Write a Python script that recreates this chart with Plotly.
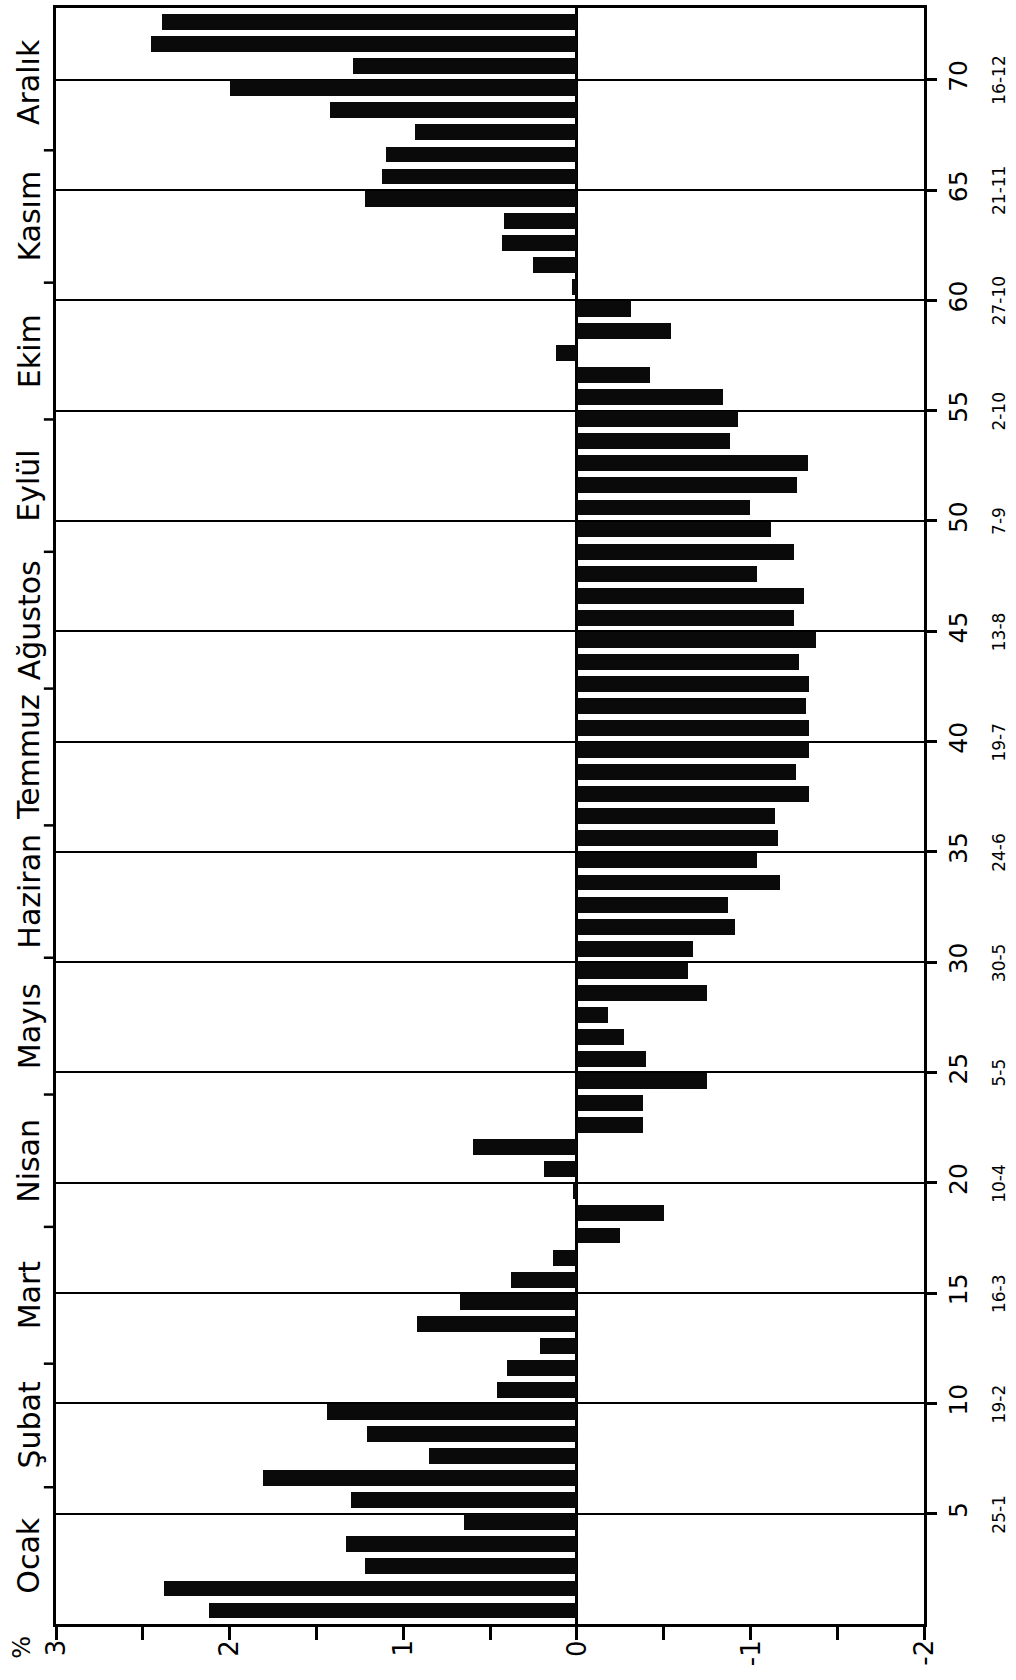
import plotly.graph_objects as go

# Five-day periods (pentads) of the year and their departures (%)
pentad = list(range(1, 74))
departure = [
    2.12, 2.38, 1.22, 1.33, 0.65, 1.30, 1.81, 0.85, 1.21, 1.44,
    0.46, 0.40, 0.21, 0.92, 0.67, 0.38, 0.14, -0.25, -0.50, 0.02,
    0.19, 0.60, -0.38, -0.38, -0.75, -0.40, -0.27, -0.18, -0.75, -0.64,
    -0.67, -0.91, -0.87, -1.17, -1.04, -1.16, -1.14, -1.34, -1.26, -1.34,
    -1.34, -1.32, -1.34, -1.28, -1.38, -1.25, -1.31, -1.04, -1.25, -1.12,
    -1.00, -1.27, -1.33, -0.88, -0.93, -0.84, -0.42, 0.12, -0.54, -0.31,
    0.03, 0.25, 0.43, 0.42, 1.22, 1.12, 1.10, 0.93, 1.42, 2.00,
    1.29, 2.45, 2.39,
]

months = ["Ocak", "Şubat", "Mart", "Nisan", "Mayıs", "Haziran",
          "Temmuz", "Ağustos", "Eylül", "Ekim", "Kasım", "Aralık"]
month_days = [31, 28, 31, 30, 31, 30, 31, 31, 30, 31, 30, 31]

pentad_ticks = [5, 10, 15, 20, 25, 30, 35, 40, 45, 50, 55, 60, 65, 70]
pentad_dates = ["25-1", "19-2", "16-3", "10-4", "5-5", "30-5", "24-6",
                "19-7", "13-8", "7-9", "2-10", "27-10", "21-11", "16-12"]

value_ticks = [3, 2.5, 2, 1.5, 1, 0.5, 0, -0.5, -1, -1.5, -2]
value_label_pos = [3, 2, 1, 0, -1, -2]
value_labels = ["3", "2", "1", "0", "-1", "-2"]

FONT = "DejaVu Sans"
INK = "#000000"

fig = go.Figure()
fig.add_trace(go.Bar(
    x=departure, y=pentad, orientation="h",
    width=0.72, offset=-0.75,
    marker=dict(color="#0a0a0a", line=dict(width=0)),
    showlegend=False, hoverinfo="x+y",
))

fig.update_layout(
    width=1016, height=1680,
    margin=dict(l=56, r=92, t=5, b=56),
    paper_bgcolor="white", plot_bgcolor="white",
    bargap=0,
    xaxis=dict(
        range=[3, -2], tickvals=value_ticks, showticklabels=False,
        ticks="outside", ticklen=13, tickwidth=2.5, tickcolor=INK,
        showline=True, linecolor=INK, linewidth=2.5, mirror=True,
        showgrid=False, zeroline=True, zerolinecolor=INK, zerolinewidth=3,
    ),
    yaxis=dict(
        range=[0, 73.25], side="right", tickvals=pentad_ticks,
        ticks="outside", ticklen=10, tickwidth=2.5, tickcolor=INK,
        tickangle=-90, tickfont=dict(family=FONT, size=25, color=INK),
        showline=True, linecolor=INK, linewidth=2.5, mirror=True,
        showgrid=True, gridcolor=INK, gridwidth=2, zeroline=False,
    ),
)

# Value labels, written upward just under the tick marks
for v, t in zip(value_label_pos, value_labels):
    fig.add_annotation(text=t, xref="x", yref="paper",
                       x=v, y=-0.0085, textangle=-90, showarrow=False,
                       xanchor="center", yanchor="top",
                       font=dict(family=FONT, size=26, color=INK))

# Month boundaries expressed in pentads, with short ticks on the left frame
bounds = [0]
for d in month_days:
    bounds.append(bounds[-1] + d / 5)

for b in bounds[1:-1]:
    fig.add_shape(type="line", xref="paper", yref="y",
                  x0=-0.014, x1=0, y0=b, y1=b,
                  line=dict(color=INK, width=2.5))

for name, lo, hi in zip(months, bounds[:-1], bounds[1:]):
    fig.add_annotation(text=name, xref="paper", yref="y",
                       x=-0.031, y=(lo + hi) / 2, textangle=-90,
                       showarrow=False, xanchor="center", yanchor="middle",
                       font=dict(family=FONT, size=30, color=INK))

# Calendar dates under the pentad numbers
for p, d in zip(pentad_ticks, pentad_dates):
    fig.add_annotation(text=d, xref="paper", yref="y",
                       x=1.0864, y=p, textangle=-90,
                       showarrow=False, xanchor="center", yanchor="middle",
                       font=dict(family=FONT, size=17, color=INK))

fig.add_annotation(text="%", xref="paper", yref="paper",
                   x=-0.040, y=-0.0062, textangle=-90, showarrow=False,
                   xanchor="center", yanchor="top",
                   font=dict(family=FONT, size=24, color=INK))

fig.write_html("out.html")
